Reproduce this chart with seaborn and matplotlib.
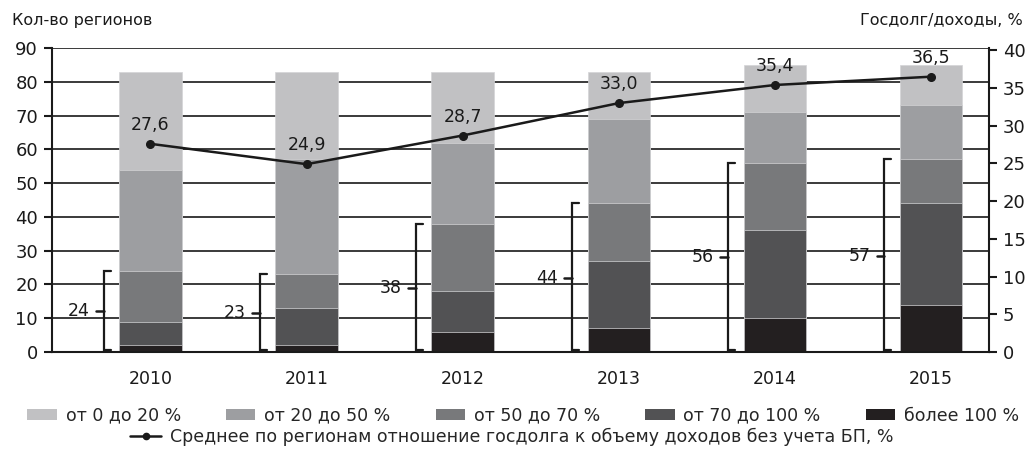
import numpy as np
import pandas as pd
import matplotlib
matplotlib.use("Agg")
import matplotlib.pyplot as plt
from matplotlib.patches import Patch
from matplotlib.lines import Line2D
import seaborn as sns

years = ["2010", "2011", "2012", "2013", "2014", "2015"]
# number of regions by debt/revenue group, bottom to top
over_100 = [2, 2, 6, 7, 10, 14]
from_70_100 = [7, 11, 12, 20, 26, 30]
from_50_70 = [15, 10, 20, 17, 20, 13]
from_20_50 = [30, 34, 24, 25, 15, 16]
from_0_20 = [29, 26, 21, 14, 14, 12]
over_50_total = [24, 23, 38, 44, 56, 57]
debt_ratio = [27.6, 24.9, 28.7, 33.0, 35.4, 36.5]

group_labels = ["более 100 %", "от 70 до 100 %", "от 50 до 70 %", "от 20 до 50 %", "от 0 до 20 %"]
group_colors = ["#231f20", "#525254", "#78797b", "#9d9ea1", "#c1c1c3"]
line_label = "Среднее по регионам отношение госдолга к объему доходов без учета БП, %"

sns.set_style("white")
plt.rcParams["font.family"] = ["DejaVu Sans"]
plt.rcParams["font.size"] = 12

fig = plt.figure(figsize=(10.34, 4.53), dpi=100)
ax = fig.add_axes([0.0503, 0.223, 0.9062, 0.671])

layers = [over_100, from_70_100, from_50_70, from_20_50, from_0_20]
cum = np.cumsum(np.array(layers), axis=0)
# draw tallest cumulative first so lower groups sit on top
for i in range(len(layers) - 1, -1, -1):
    df = pd.DataFrame({"year": years, "value": cum[i]})
    sns.barplot(data=df, x="year", y="value", color=group_colors[i], width=0.4,
                saturation=1, edgecolor="#d4d4d6", linewidth=0.5, ax=ax, zorder=2)

ax.set_ylim(0, 90)
ax.set_yticks(range(0, 91, 10))
ax.set_xlim(-0.63, 5.37)
ax.yaxis.grid(True, color="#2b2b2b", linewidth=1.3, zorder=0)
ax.set_axisbelow(True)
ax.set_xlabel("")
ax.set_ylabel("")
for s in ["top", "right"]:
    ax.spines[s].set_visible(False)
for s in ["left", "bottom"]:
    ax.spines[s].set_color("#1a1a1a")
    ax.spines[s].set_linewidth(1.5)
ax.tick_params(axis="y", direction="out", length=6, width=1.5, color="#1a1a1a",
               labelsize=13, labelcolor="#1a1a1a", pad=4)
ax.tick_params(axis="x", length=0, labelsize=12.5, labelcolor="#1a1a1a", pad=13)

# brackets for regions with debt above 50 %
for i, total in enumerate(over_50_total):
    xb = i - 0.30
    ax.plot([xb + 0.045, xb, xb, xb + 0.045], [0.5, 0.5, total, total],
            color="#1a1a1a", lw=1.6, zorder=3, solid_joinstyle="miter")
    ax.plot([xb - 0.05, xb], [total / 2, total / 2], color="#1a1a1a", lw=1.8, zorder=3)
    ax.text(xb - 0.09, total / 2, str(total), ha="right", va="center",
            fontsize=12.5, color="#1a1a1a", zorder=3)

ax2 = ax.twinx()
ax2.plot(range(len(years)), debt_ratio, color="#1a1a1a", lw=1.8, marker="o",
         markersize=5.5, zorder=5)
for i, v in enumerate(debt_ratio):
    ax2.annotate(f"{v:.1f}".replace(".", ","), (i, v), xytext=(0, 7),
                 textcoords="offset points", ha="center", va="bottom",
                 fontsize=12.5, color="#1a1a1a")
ax2.set_ylim(0, 40.3)
ax2.set_yticks(range(0, 41, 5))
ax2.set_xlim(-0.63, 5.37)
for s in ["top", "left", "bottom"]:
    ax2.spines[s].set_visible(False)
ax2.spines["right"].set_color("#1a1a1a")
ax2.spines["right"].set_linewidth(1.5)
ax2.tick_params(axis="y", direction="out", length=6, width=1.5, color="#1a1a1a",
                labelsize=13, labelcolor="#1a1a1a", pad=4)
ax2.grid(False)

fig.text(0.012, 0.955, "Кол-во регионов", ha="left", va="center", fontsize=11.5, color="#1a1a1a")
fig.text(0.989, 0.955, "Госдолг/доходы, %", ha="right", va="center", fontsize=11.5, color="#1a1a1a")

handles = [Patch(facecolor=c, edgecolor="none") for c in group_colors[::-1]]
fig.legend(handles, group_labels[::-1], loc="center", bbox_to_anchor=(0.506, 0.082), ncol=5,
           frameon=False, fontsize=12.5, handlelength=1.7, handleheight=0.55,
           columnspacing=2.6, handletextpad=0.5)
line_handle = Line2D([], [], color="#1a1a1a", lw=1.8, marker="o", markersize=4.5)
fig.legend([line_handle], [line_label], loc="center", bbox_to_anchor=(0.495, 0.035),
           frameon=False, fontsize=12.5, handlelength=1.8, handletextpad=0.5)

fig.savefig("out.png", dpi=100)
